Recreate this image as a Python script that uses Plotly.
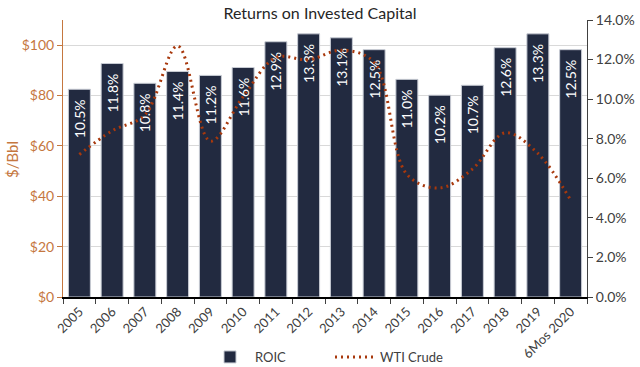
import plotly.graph_objects as go

categories = ["2005", "2006", "2007", "2008", "2009", "2010", "2011", "2012",
              "2013", "2014", "2015", "2016", "2017", "2018", "2019", "6Mos 2020"]
roic_pct = [10.5, 11.8, 10.8, 11.4, 11.2, 11.6, 12.9, 13.3,
            13.1, 12.5, 11.0, 10.2, 10.7, 12.6, 13.3, 12.5]
wti_crude = [56.6, 66.0, 72.3, 99.7, 61.9, 79.5, 95.1, 94.2,
             98.0, 93.2, 48.7, 43.3, 50.8, 65.2, 57.0, 38.5]
left_ticks = [0, 20, 40, 60, 80, 100]
left_ticktext = ["$0", "$20", "$40", "$60", "$80", "$100"]
right_ticks = [0, 2, 4, 6, 8, 10, 12, 14]

ORANGE = "#C5773F"
RUST = "#A8380C"
NAVY = "#222A40"
GRAY = "#404040"
FONT = "Lato"

fig = go.Figure()

# invisible trace anchoring the left ($/Bbl) axis that carries the gridlines
fig.add_trace(go.Scatter(x=categories, y=wti_crude, yaxis="y", mode="lines",
                         line=dict(width=0), showlegend=False, hoverinfo="skip"))

fig.add_trace(go.Bar(
    x=categories, y=roic_pct, yaxis="y2", name="ROIC",
    marker=dict(color=NAVY, line=dict(color="#C8CCD4", width=1)),
    text=[f"{v:.1f}%\u00a0\u00a0" for v in roic_pct], textposition="inside",
    insidetextanchor="end", textangle=-90,
    textfont=dict(color="white", size=14, family=FONT),
    constraintext="none",
))

fig.add_trace(go.Scatter(
    x=categories, y=wti_crude, yaxis="y3", name="WTI Crude", mode="lines",
    line=dict(color=RUST, width=3, dash="2px,4px", shape="spline", smoothing=1.0),
))

fig.update_layout(
    width=640, height=367,
    margin=dict(l=63, r=53, t=20, b=70, autoexpand=False),
    plot_bgcolor="white", paper_bgcolor="white",
    font=dict(family=FONT, color=GRAY, size=13),
    title=dict(text="Returns on Invested Capital", x=0.5, xanchor="center",
               y=1 - 13 / 367, yanchor="middle",
               font=dict(size=16, color="#262626", family=FONT)),
    bargap=0.33,
    showlegend=True,
    legend=dict(orientation="h", x=(205 - 63) / 524, xanchor="left",
                y=-60 / 277, yanchor="middle",
                font=dict(size=13, color=GRAY, family=FONT), itemwidth=40,
                entrywidth=70, traceorder="normal"),
    xaxis=dict(type="category", tickangle=-45, showline=True, linecolor="black",
               linewidth=2, ticks="outside", tickson="boundaries", ticklen=5,
               tickcolor=GRAY, tickfont=dict(size=13, color=GRAY, family=FONT),
               showgrid=False, automargin=False),
    yaxis=dict(range=[0, 110], tickvals=left_ticks, ticktext=left_ticktext,
               side="left", showgrid=True, gridcolor="#D9D9D9", gridwidth=1,
               showline=True, linecolor=ORANGE, linewidth=1, ticks="outside",
               ticklen=5, tickcolor=ORANGE, zeroline=False, automargin=False,
               tickfont=dict(size=14, color=ORANGE, family=FONT)),
    yaxis2=dict(range=[0, 14], tickvals=right_ticks,
                ticktext=[f"{v:.1f}%" for v in right_ticks], side="right",
                overlaying="y", showgrid=False, showline=True, linecolor=GRAY,
                linewidth=1, ticks="outside", ticklen=5, tickcolor=GRAY,
                zeroline=False, automargin=False,
                tickfont=dict(size=14, color=GRAY, family=FONT)),
    yaxis3=dict(range=[0, 110], overlaying="y", visible=False),
    annotations=[dict(text="$/Bbl", textangle=-90, xref="paper", yref="paper",
                      x=(12 - 63) / 524, y=(297 - 160) / 277, showarrow=False,
                      xanchor="center", yanchor="middle",
                      font=dict(size=15, color=ORANGE, family=FONT))],
)

fig.write_html("out.html", config={"displayModeBar": False},
               post_script="document.body.style.margin='0';")
